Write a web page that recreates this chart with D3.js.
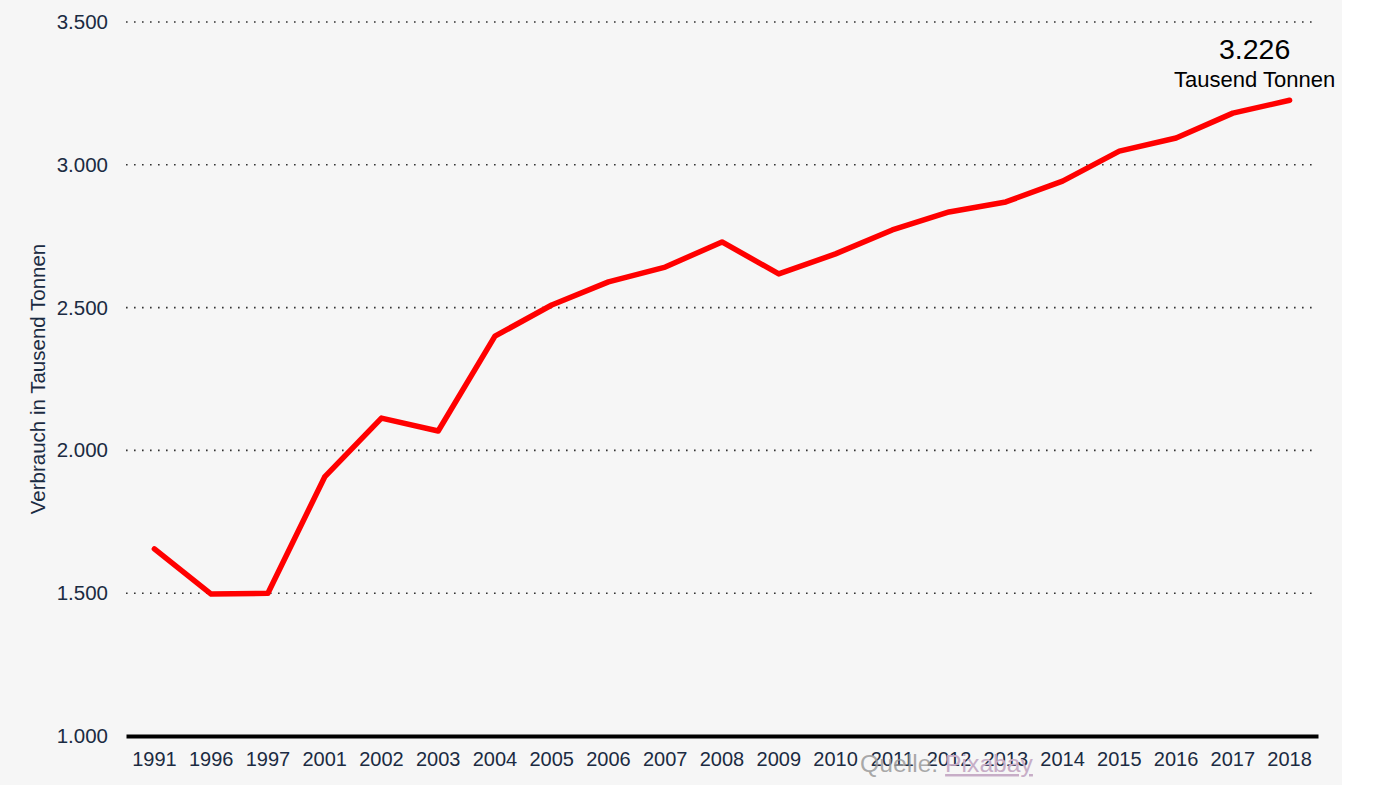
<!DOCTYPE html>
<html>
<head>
<meta charset="utf-8">
<script src="https://cdn.jsdelivr.net/npm/d3@7"></script>
<style>
  html, body { margin: 0; padding: 0; background: #fff; }
  svg { display: block; font-family: "Liberation Sans", Arial, sans-serif; }
</style>
</head>
<body>
<div id="chart"></div>
<script>
const years = ["1991", "1996", "1997", "2001", "2002", "2003", "2004", "2005", "2006", "2007",
  "2008", "2009", "2010", "2011", "2012", "2013", "2014", "2015", "2016", "2017", "2018"];
const consumption = [1655, 1497, 1500, 1907, 2113, 2068, 2400, 2509, 2590, 2642,
  2730, 2618, 2688, 2772, 2835, 2870, 2943, 3048, 3094, 3181, 3226];
const yTicks = [1000, 1500, 2000, 2500, 3000, 3500];
const yLabel = "Verbrauch in Tausend Tonnen";
const unitLabel = "Tausend Tonnen";

const width = 1376, height = 793;
const bgWidth = 1342, bgHeight = 785;
const margin = { top: 22, right: 58, bottom: 57, left: 126 };

const svg = d3.select("#chart").append("svg")
  .attr("width", width)
  .attr("height", height);

svg.append("rect")
  .attr("width", bgWidth)
  .attr("height", bgHeight)
  .attr("fill", "#f6f6f6");

const x = d3.scaleBand()
  .domain(years)
  .range([margin.left, width - margin.right]);

const y = d3.scaleLinear()
  .domain([1000, 3500])
  .range([height - margin.bottom, margin.top]);

const fmt = d3.formatLocale({ decimal: ",", thousands: ".", grouping: [3], currency: ["", "€"] }).format(",d");

// gridlines (dotted)
svg.append("g")
  .selectAll("line")
  .data(yTicks.filter(d => d > 1000))
  .enter()
  .append("line")
  .attr("x1", margin.left)
  .attr("x2", width - margin.right)
  .attr("y1", d => y(d))
  .attr("y2", d => y(d))
  .attr("stroke", "#333")
  .attr("stroke-width", 1.6)
  .attr("stroke-dasharray", "1.6,6.4");

// y axis labels
const yAxis = d3.axisLeft(y).tickValues(yTicks).tickSize(0).tickPadding(18).tickFormat(fmt);
svg.append("g")
  .attr("transform", `translate(${margin.left},0)`)
  .call(yAxis)
  .call(g => g.select(".domain").remove())
  .call(g => g.selectAll("text")
    .attr("fill", "#1b2b42")
    .style("font-size", "20.5px")
    .style("font-family", "'Liberation Sans', Arial, sans-serif"));

// x axis
const xAxis = d3.axisBottom(x).tickSize(0).tickPadding(16);
svg.append("g")
  .attr("transform", `translate(0,${y(1000)})`)
  .call(xAxis)
  .call(g => g.select(".domain")
    .attr("stroke", "#000")
    .attr("stroke-width", 4))
  .call(g => g.selectAll("text")
    .attr("fill", "#1b2b42")
    .style("font-size", "20px")
    .style("font-family", "'Liberation Sans', Arial, sans-serif"));

// y axis title
svg.append("text")
  .attr("transform", `translate(45,${(y(1000) + y(3500)) / 2}) rotate(-90)`)
  .attr("text-anchor", "middle")
  .attr("fill", "#1b2b42")
  .style("font-size", "20.5px")
  .text(yLabel);

// line
const line = d3.line()
  .x((d, i) => x(years[i]) + x.bandwidth() / 2)
  .y(d => y(d));

svg.append("path")
  .datum(consumption)
  .attr("d", line)
  .attr("fill", "none")
  .attr("stroke", "#ff0000")
  .attr("stroke-width", 5.5)
  .attr("stroke-linejoin", "round")
  .attr("stroke-linecap", "round");

// end annotation
const lastIdx = consumption.length - 1;
const annX = x(years[lastIdx]) + x.bandwidth() / 2 - 35;
svg.append("text")
  .attr("x", annX)
  .attr("y", 59)
  .attr("text-anchor", "middle")
  .attr("fill", "#000")
  .style("font-size", "28.5px")
  .text(fmt(consumption[lastIdx]));

svg.append("text")
  .attr("x", annX)
  .attr("y", 87)
  .attr("text-anchor", "middle")
  .attr("fill", "#000")
  .style("font-size", "22px")
  .text(unitLabel);

// source credit
const credit = svg.append("text")
  .attr("x", 860)
  .attr("y", 772)
  .style("font-size", "24.7px");
credit.append("tspan")
  .attr("fill", "#9a9a9a")
  .attr("fill-opacity", 0.85)
  .text("Quelle: ");
credit.append("tspan")
  .attr("fill", "#c7adc7")
  .attr("text-decoration", "underline")
  .text("Pixabay");
</script>
</body>
</html>
